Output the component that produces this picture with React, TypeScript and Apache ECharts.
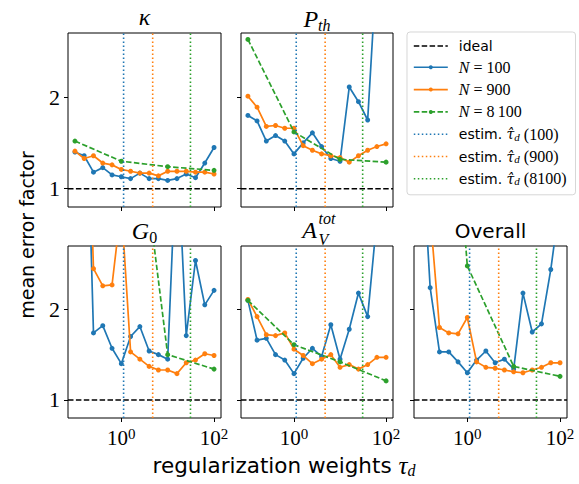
import React, { useEffect, useRef } from 'react';
import * as echarts from 'echarts';

// ---------- data ----------
const TAU = [0.1, 0.158, 0.251, 0.398, 0.631, 1, 1.585, 2.512, 3.981, 6.31, 10, 15.85, 25.12, 39.81, 63.1, 100];
const TAU_COARSE = [0.1, 1, 10, 100];
const ESTIM_TAU_100 = 1.12;
const ESTIM_TAU_900 = 4.75;
const ESTIM_TAU_8100 = 31;

const KAPPA_N100 = [1.40, 1.36, 1.18, 1.23, 1.15, 1.13, 1.11, 1.17, 1.11, 1.11, 1.09, 1.11, 1.16, 1.12, 1.28, 1.45];
const KAPPA_N900 = [1.41, 1.33, 1.36, 1.28, 1.26, 1.21, 1.19, 1.17, 1.17, 1.14, 1.19, 1.19, 1.19, 1.18, 1.18, 1.16];
const KAPPA_N8100 = [1.52, 1.30, 1.24, 1.20];

const PTH_N100 = [1.80, 1.74, 1.52, 1.58, 1.52, 1.38, 1.50, 1.61, 1.46, 1.33, 1.30, 2.11, 1.95, 1.75, 3.46, 5.0];
const PTH_N900 = [2.01, 1.89, 1.68, 1.69, 1.66, 1.66, 1.47, 1.42, 1.38, 1.36, 1.34, 1.29, 1.36, 1.42, 1.46, 1.49];
const PTH_N8100 = [2.63, 1.62, 1.32, 1.29];

const G0_N100 = [6.0, 5.4, 1.74, 1.82, 1.57, 1.40, 1.70, 1.81, 1.54, 1.50, 1.45, 3.9, 1.71, 2.54, 2.05, 2.21];
const G0_N900 = [7.0, 5.7, 2.45, 2.26, 2.27, 3.15, 1.53, 1.45, 1.37, 1.33, 1.33, 1.29, 1.41, 1.44, 1.51, 1.49];
const G0_N8100 = [8.0, 5.6, 1.50, 1.34];

const AV_N100 = [2.10, 1.66, 1.68, 1.50, 1.44, 1.29, 1.46, 1.57, 1.48, 1.83, 1.45, 1.78, 2.18, 1.92, 3.0, 4.0];
const AV_N900 = [2.11, 1.92, 1.72, 1.71, 1.74, 1.56, 1.49, 1.40, 1.45, 1.50, 1.36, 1.39, 1.34, 1.39, 1.47, 1.47];
const AV_N8100 = [2.10, 1.61, 1.42, 1.21];

const ALL_N100 = [4.0, 2.24, 1.53, 1.53, 1.42, 1.30, 1.44, 1.54, 1.41, 1.45, 1.34, 2.18, 1.75, 1.84, 2.44, 3.2];
const ALL_N900 = [4.5, 3.05, 1.80, 1.74, 1.73, 1.91, 1.42, 1.36, 1.35, 1.33, 1.31, 1.30, 1.33, 1.36, 1.41, 1.41];
const ALL_N8100 = [9.0, 2.48, 1.37, 1.26];

const IDEAL = 1;
const X_MIN = 0.0708;
const X_MAX = 141.25;
const Y_MIN = 0.8;
const Y_MAX = 2.7;
const X_TICKS = [1, 100];
const Y_TICKS = [1, 2];

// ---------- style ----------
const SERIF = "'Liberation Serif', 'DejaVu Serif', serif";
const DJSERIF = "'DejaVu Serif', serif";
const SANS = "'DejaVu Sans', sans-serif";
const BLUE = '#1f77b4';
const ORANGE = '#ff7f0e';
const GREEN = '#2ca02c';

const NAME_IDEAL = 'ideal';
const NAME_100 = 'N = 100';
const NAME_900 = 'N = 900';
const NAME_8100 = 'N = 8100';
const NAME_E100 = 'estim (100)';
const NAME_E900 = 'estim (900)';
const NAME_E8100 = 'estim (8100)';

const PANELS = [
  { n100: KAPPA_N100, n900: KAPPA_N900, n8100: KAPPA_N8100 },
  { n100: PTH_N100, n900: PTH_N900, n8100: PTH_N8100 },
  { n100: G0_N100, n900: G0_N900, n8100: G0_N8100 },
  { n100: AV_N100, n900: AV_N900, n8100: AV_N8100 },
  { n100: ALL_N100, n900: ALL_N900, n8100: ALL_N8100 },
];

const LAYOUT = [
  { left: 68, top: 33, width: 153, height: 174, showX: false, showY: true },
  { left: 241, top: 33, width: 152, height: 174, showX: false, showY: false },
  { left: 68, top: 246, width: 153, height: 172, showX: true, showY: true },
  { left: 241, top: 246, width: 152, height: 172, showX: true, showY: false },
  { left: 414, top: 246, width: 153, height: 172, showX: true, showY: false },
];

const DASH = [5.5, 2.4];
const DOT = [1.5, 2.5];

function buildOption() {
  const series: any[] = [];
  PANELS.forEach((p, i) => {
    const base = { type: 'line', xAxisIndex: i, yAxisIndex: i, clip: true, silent: true };
    series.push({
      ...base, name: NAME_IDEAL, data: [[X_MIN, IDEAL], [X_MAX, IDEAL]], symbol: 'none',
      lineStyle: { color: '#000', width: 1.5, type: DASH }, itemStyle: { color: '#000' }, z: 2,
    });
    series.push({
      ...base, name: NAME_100, data: TAU.map((t, k) => [t, p.n100[k]]), symbol: 'circle', symbolSize: 5,
      lineStyle: { color: BLUE, width: 1.7 }, itemStyle: { color: BLUE }, z: 3,
    });
    series.push({
      ...base, name: NAME_900, data: TAU.map((t, k) => [t, p.n900[k]]), symbol: 'circle', symbolSize: 5,
      lineStyle: { color: ORANGE, width: 1.7 }, itemStyle: { color: ORANGE }, z: 4,
    });
    series.push({
      ...base, name: NAME_8100, data: TAU_COARSE.map((t, k) => [t, p.n8100[k]]), symbol: 'circle', symbolSize: 5,
      lineStyle: { color: GREEN, width: 1.7, type: DASH }, itemStyle: { color: GREEN }, z: 5,
    });
    [[NAME_E100, ESTIM_TAU_100, BLUE], [NAME_E900, ESTIM_TAU_900, ORANGE], [NAME_E8100, ESTIM_TAU_8100, GREEN]].forEach(
      ([name, tau, color]) => {
        series.push({
          ...base, name, data: [[tau, Y_MIN], [tau, Y_MAX]], symbol: 'none',
          lineStyle: { color, width: 1.6, type: DOT }, itemStyle: { color }, z: 6,
        });
      }
    );
  });

  const legendLabels: Record<string, string> = {
    [NAME_IDEAL]: '{sp| }{sans|ideal}',
    [NAME_100]: '{sp| }{it|N}{rm| = 100}',
    [NAME_900]: '{sp| }{it|N}{rm| = 900}',
    [NAME_8100]: '{sp| }{it|N}{rm| = 8\u2009100}',
    [NAME_E100]: '{sp| }{sans|estim. }{tau|\u03c4\u0302}{sub|d}{rm| (100)}',
    [NAME_E900]: '{sp| }{sans|estim. }{tau|\u03c4\u0302}{sub|d}{rm| (900)}',
    [NAME_E8100]: '{sp| }{sans|estim. }{tau|\u03c4\u0302}{sub|d}{rm| (8100)}',
  };
  const noSymbol = new Set([NAME_IDEAL, NAME_E100, NAME_E900, NAME_E8100]);
  const legendOrder = [NAME_IDEAL, NAME_100, NAME_900, NAME_8100, NAME_E100, NAME_E900, NAME_E8100];

  const graphic: any[] = [
    // panel titles
    { type: 'text', x: 144.5, y: 17, style: { text: '\u03ba', fontFamily: SERIF, fontStyle: 'italic', fontSize: 24, fill: '#000', align: 'center', verticalAlign: 'middle' } },
    {
      type: 'text', x: 317, y: 19,
      style: {
        text: '{i|P}{s|th}', align: 'center', verticalAlign: 'middle', fill: '#000',
        rich: {
          i: { fontFamily: SERIF, fontStyle: 'italic', fontSize: 24, lineHeight: 28 },
          s: { fontFamily: SERIF, fontStyle: 'italic', fontSize: 16, lineHeight: 8, verticalAlign: 'bottom' },
        },
      },
    },
    {
      type: 'text', x: 144.5, y: 231,
      style: {
        text: '{i|G}{s|0}', align: 'center', verticalAlign: 'middle', fill: '#000',
        rich: {
          i: { fontFamily: SERIF, fontStyle: 'italic', fontSize: 24, lineHeight: 28 },
          s: { fontFamily: SERIF, fontSize: 16, lineHeight: 8, verticalAlign: 'bottom' },
        },
      },
    },
    { type: 'text', x: 317, y: 230, style: { text: 'A', fontFamily: SERIF, fontStyle: 'italic', fontSize: 24, fill: '#000', align: 'right', verticalAlign: 'middle' } },
    { type: 'text', x: 318.5, y: 218, style: { text: 'tot', fontFamily: SERIF, fontStyle: 'italic', fontSize: 16, fill: '#000', align: 'left', verticalAlign: 'middle' } },
    { type: 'text', x: 318.5, y: 239, style: { text: 'V', fontFamily: SERIF, fontStyle: 'italic', fontSize: 16, fill: '#000', align: 'left', verticalAlign: 'middle' } },
    { type: 'text', x: 490.5, y: 231, style: { text: 'Overall', fontFamily: SANS, fontSize: 20, fill: '#000', align: 'center', verticalAlign: 'middle' } },
    // figure labels
    {
      type: 'text', x: 27, y: 235, rotation: Math.PI / 2,
      style: { text: 'mean error factor', fontFamily: SANS, fontSize: 19, fill: '#000', align: 'center', verticalAlign: 'middle' },
    },
    {
      type: 'text', x: 284, y: 465,
      style: {
        text: '{a|regularization weights }{t|\u03c4}{s|d}', align: 'center', verticalAlign: 'middle', fill: '#000',
        rich: {
          a: { fontFamily: SANS, fontSize: 21.5, lineHeight: 26 },
          t: { fontFamily: SERIF, fontStyle: 'italic', fontSize: 25, lineHeight: 26 },
          s: { fontFamily: SERIF, fontStyle: 'italic', fontSize: 16, lineHeight: 8, verticalAlign: 'bottom' },
        },
      },
    },
  ];

  return {
    animation: false,
    backgroundColor: '#fff',
    textStyle: { fontFamily: SERIF, color: '#000' },
    grid: LAYOUT.map((l) => ({
      left: l.left, top: l.top, width: l.width, height: l.height,
      show: true, borderColor: '#000', borderWidth: 1, backgroundColor: 'transparent',
    })),
    xAxis: LAYOUT.map((l, i) => ({
      type: 'log', logBase: 10, gridIndex: i, min: X_MIN, max: X_MAX,
      axisLine: { show: false }, splitLine: { show: false },
      axisTick: { show: true, inside: false, length: 4, customValues: X_TICKS, lineStyle: { color: '#000', width: 1 } },
      minorTick: { show: false },
      axisLabel: {
        show: l.showX, customValues: X_TICKS, margin: 8, color: '#000',
        formatter: (v: number) => `{b|10}{s|${Math.round(Math.log10(v))}}`,
        rich: {
          b: { fontFamily: SERIF, fontSize: 21, lineHeight: 24 },
          s: { fontFamily: SERIF, fontSize: 15, lineHeight: 12, verticalAlign: 'top' },
        },
      },
    })),
    yAxis: LAYOUT.map((l, i) => ({
      type: 'value', gridIndex: i, min: Y_MIN, max: Y_MAX,
      axisLine: { show: false }, splitLine: { show: false },
      axisTick: { show: true, inside: false, length: 4, customValues: Y_TICKS, lineStyle: { color: '#000', width: 1 } },
      axisLabel: { show: l.showY, customValues: Y_TICKS, margin: 8, color: '#000', fontFamily: SERIF, fontSize: 22 },
    })),
    legend: {
      orient: 'vertical', left: 407, top: 32, padding: [7, 9, 8, 6],
      itemWidth: 34, itemHeight: 5, itemGap: 6.3,
      borderColor: 'rgba(204,204,204,0.8)', borderWidth: 1, borderRadius: 3,
      backgroundColor: 'rgba(255,255,255,0.8)', selectedMode: false,
      lineStyle: { width: 1.6 },
      data: legendOrder.map((name) =>
        noSymbol.has(name) ? { name, itemStyle: { opacity: 0 } } : { name }
      ),
      formatter: (name: string) => legendLabels[name],
      textStyle: {
        color: '#000',
        rich: {
          sp: { width: 6, fontSize: 10, lineHeight: 16 },
          sans: { fontFamily: SANS, fontSize: 14, lineHeight: 16 },
          it: { fontFamily: SERIF, fontStyle: 'italic', fontSize: 16, lineHeight: 16 },
          tau: { fontFamily: DJSERIF, fontStyle: 'italic', fontSize: 14, lineHeight: 16 },
          rm: { fontFamily: SERIF, fontSize: 16, lineHeight: 16 },
          sub: { fontFamily: SERIF, fontStyle: 'italic', fontSize: 11, lineHeight: 6, verticalAlign: 'bottom' },
        },
      },
    },
    graphic,
    series,
  };
}

export default function App() {
  const ref = useRef<HTMLDivElement>(null);
  useEffect(() => {
    const chart = echarts.init(ref.current!, null, { renderer: 'svg' });
    chart.setOption(buildOption() as any);
    return () => chart.dispose();
  }, []);
  return (
    <div
      ref={ref}
      style={{ position: 'fixed', left: 0, top: 0, width: 579, height: 484, background: '#fff' }}
    />
  );
}
